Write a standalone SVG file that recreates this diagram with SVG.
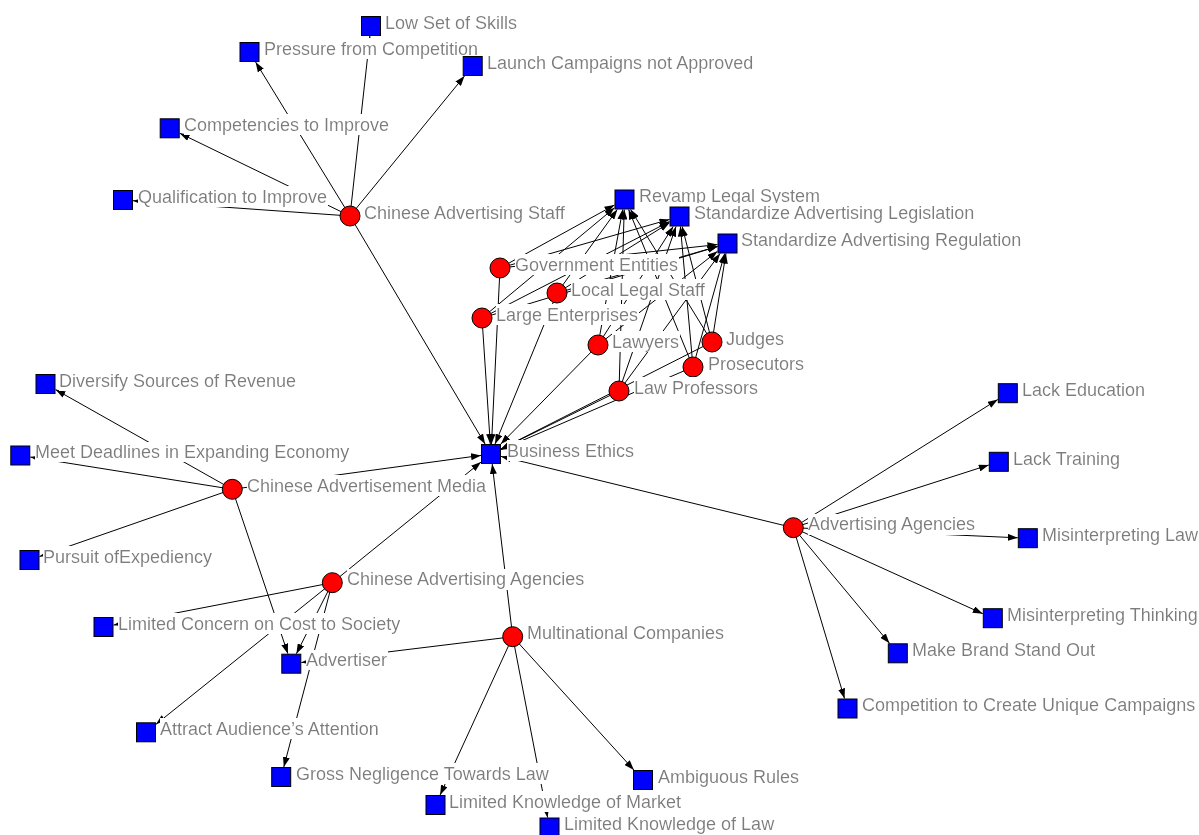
<svg xmlns="http://www.w3.org/2000/svg" width="1199" height="835" viewBox="0 0 1199 835">
<style>
.e{stroke:#000;stroke-width:1;fill:none;marker-end:url(#a)}
.s{fill:#0000ff;stroke:#000;stroke-width:1}
.c{fill:#ff0000;stroke:#000;stroke-width:1}
.t{font-family:"Liberation Sans",Arial,sans-serif;font-size:18px;fill:#7c7c7c;filter:url(#bg)}
</style>
<defs>
<marker id="a" viewBox="0 0 10 7" refX="10" refY="3.5" markerWidth="10" markerHeight="7" orient="auto" markerUnits="userSpaceOnUse"><path d="M0,0 L10,3.5 L0,7 z" fill="#000"/></marker>
<filter id="bg" x="0" y="0" width="1" height="1"><feFlood flood-color="#ffffff"/><feComposite in="SourceGraphic"/></filter>
</defs>
<rect width="1199" height="835" fill="#fff"/>
<g id="edges">
<line class="e" x1="350" y1="216" x2="369.9" y2="36"/>
<line class="e" x1="350" y1="216" x2="255.6" y2="62"/>
<line class="e" x1="350" y1="216" x2="464.5" y2="76"/>
<line class="e" x1="350" y1="216" x2="179.7" y2="133.2"/>
<line class="e" x1="350" y1="216" x2="133" y2="200.7"/>
<line class="e" x1="350" y1="216" x2="485.1" y2="444"/>
<line class="e" x1="232.3" y1="489.3" x2="55.5" y2="389.6"/>
<line class="e" x1="232.3" y1="489.3" x2="30.3" y2="457.1"/>
<line class="e" x1="232.3" y1="489.3" x2="39.5" y2="556.5"/>
<line class="e" x1="232.3" y1="489.3" x2="481" y2="455.4"/>
<line class="e" x1="232.3" y1="489.3" x2="287.9" y2="653.7"/>
<line class="e" x1="332.3" y1="582.7" x2="481" y2="462.1"/>
<line class="e" x1="332.3" y1="582.7" x2="113.5" y2="625.1"/>
<line class="e" x1="332.3" y1="582.7" x2="296.4" y2="653.7"/>
<line class="e" x1="332.3" y1="582.7" x2="156" y2="724.3"/>
<line class="e" x1="332.3" y1="582.7" x2="283.8" y2="767"/>
<line class="e" x1="512.7" y1="636.7" x2="492.2" y2="464"/>
<line class="e" x1="512.7" y1="636.7" x2="301.3" y2="662.5"/>
<line class="e" x1="512.7" y1="636.7" x2="440.1" y2="795"/>
<line class="e" x1="512.7" y1="636.7" x2="547.6" y2="817.5"/>
<line class="e" x1="512.7" y1="636.7" x2="633.9" y2="770"/>
<line class="e" x1="793.3" y1="527.7" x2="501" y2="456.4"/>
<line class="e" x1="793.3" y1="527.7" x2="997.8" y2="399.5"/>
<line class="e" x1="793.3" y1="527.7" x2="988.8" y2="465"/>
<line class="e" x1="793.3" y1="527.7" x2="1017.8" y2="537.8"/>
<line class="e" x1="793.3" y1="527.7" x2="982.8" y2="613.7"/>
<line class="e" x1="793.3" y1="527.7" x2="889.5" y2="643.3"/>
<line class="e" x1="793.3" y1="527.7" x2="844.5" y2="698.5"/>
<line class="e" x1="500" y1="268" x2="491.5" y2="444"/>
<line class="e" x1="557" y1="293" x2="495.1" y2="444"/>
<line class="e" x1="482" y1="318" x2="490.3" y2="444"/>
<line class="e" x1="598" y1="345" x2="500.8" y2="444"/>
<line class="e" x1="712" y1="342" x2="501" y2="448.9"/>
<line class="e" x1="693" y1="367" x2="501" y2="449.7"/>
<line class="e" x1="619" y1="391" x2="501" y2="449.1"/>
<line class="e" x1="500" y1="268" x2="614.5" y2="205"/>
<line class="e" x1="557" y1="293" x2="617.3" y2="209.5"/>
<line class="e" x1="482" y1="318" x2="614.5" y2="207.8"/>
<line class="e" x1="598" y1="345" x2="622.7" y2="209.5"/>
<line class="e" x1="712" y1="342" x2="630.6" y2="209.5"/>
<line class="e" x1="693" y1="367" x2="628.6" y2="209.5"/>
<line class="e" x1="619" y1="391" x2="624.2" y2="209.5"/>
<line class="e" x1="500" y1="268" x2="669.5" y2="219.4"/>
<line class="e" x1="557" y1="293" x2="669.5" y2="222.7"/>
<line class="e" x1="482" y1="318" x2="669.5" y2="221.6"/>
<line class="e" x1="598" y1="345" x2="673.2" y2="226.5"/>
<line class="e" x1="712" y1="342" x2="682.1" y2="226.5"/>
<line class="e" x1="693" y1="367" x2="680.4" y2="226.5"/>
<line class="e" x1="619" y1="391" x2="676" y2="226.5"/>
<line class="e" x1="500" y1="268" x2="717.5" y2="244.6"/>
<line class="e" x1="557" y1="293" x2="717.5" y2="246.4"/>
<line class="e" x1="482" y1="318" x2="717.5" y2="246.5"/>
<line class="e" x1="598" y1="345" x2="717.5" y2="251.3"/>
<line class="e" x1="712" y1="342" x2="725.9" y2="253.5"/>
<line class="e" x1="693" y1="367" x2="724.7" y2="253.5"/>
<line class="e" x1="619" y1="391" x2="720.1" y2="253.5"/>
</g>
<g id="n-lss"><rect class="s" x="361.5" y="16.5" width="19" height="19"/><text class="t" x="385" y="28.5">Low Set of Skills</text></g>
<g id="n-pfc"><rect class="s" x="240" y="42.5" width="19" height="19"/><text class="t" x="264" y="54.5">Pressure from Competition</text></g>
<g id="n-lca"><rect class="s" x="463.2" y="56.5" width="19" height="19"/><text class="t" x="487" y="68.5">Launch Campaigns not Approved</text></g>
<g id="n-cti"><rect class="s" x="160.2" y="118.8" width="19" height="19"/><text class="t" x="184" y="130.5">Competencies to Improve</text></g>
<g id="n-qti"><rect class="s" x="113.5" y="190.5" width="19" height="19"/><text class="t" x="138" y="202.5">Qualification to Improve</text></g>
<g id="n-cas"><circle class="c" cx="350" cy="216" r="10"/><text class="t" x="364" y="218.5">Chinese Advertising Staff</text></g>
<g id="n-rev"><rect class="s" x="615" y="190" width="19" height="19"/><text class="t" x="639" y="202">Revamp Legal System</text></g>
<g id="n-sal"><rect class="s" x="670" y="207" width="19" height="19"/><text class="t" x="694" y="219">Standardize Advertising Legislation</text></g>
<g id="n-sar"><rect class="s" x="718" y="234" width="19" height="19"/><text class="t" x="741" y="246">Standardize Advertising Regulation</text></g>
<g id="n-gov"><circle class="c" cx="500" cy="268" r="10"/><text class="t" x="515" y="270.5">Government Entities</text></g>
<g id="n-lls"><circle class="c" cx="557" cy="293" r="10"/><text class="t" x="571" y="295.5">Local Legal Staff</text></g>
<g id="n-len"><circle class="c" cx="482" cy="318" r="10"/><text class="t" x="496" y="320.5">Large Enterprises</text></g>
<g id="n-law"><circle class="c" cx="598" cy="345" r="10"/><text class="t" x="612" y="347.5">Lawyers</text></g>
<g id="n-jud"><circle class="c" cx="712" cy="342" r="10"/><text class="t" x="726" y="344.5">Judges</text></g>
<g id="n-pro"><circle class="c" cx="693" cy="367" r="10"/><text class="t" x="708" y="369.5">Prosecutors</text></g>
<g id="n-lpr"><circle class="c" cx="619" cy="391" r="10"/><text class="t" x="634" y="393.5">Law Professors</text></g>
<g id="n-dsr"><rect class="s" x="36" y="374.5" width="19" height="19"/><text class="t" x="59" y="386.5">Diversify Sources of Revenue</text></g>
<g id="n-mde"><rect class="s" x="10.8" y="446" width="19" height="19"/><text class="t" x="35" y="458">Meet Deadlines in Expanding Economy</text></g>
<g id="n-be"><rect class="s" x="481.5" y="444.5" width="19" height="19"/><text class="t" x="507" y="456.5">Business Ethics</text></g>
<g id="n-cam"><circle class="c" cx="232.3" cy="489.3" r="10"/><text class="t" x="247" y="491.8">Chinese Advertisement Media</text></g>
<g id="n-pex"><rect class="s" x="20" y="550.5" width="19" height="19"/><text class="t" x="43" y="562.5">Pursuit ofExpediency</text></g>
<g id="n-led"><rect class="s" x="998.3" y="383.7" width="19" height="19"/><text class="t" x="1022" y="395.5">Lack Education</text></g>
<g id="n-ltr"><rect class="s" x="989.3" y="452.3" width="19" height="19"/><text class="t" x="1013" y="464.5">Lack Training</text></g>
<g id="n-ada"><circle class="c" cx="793.3" cy="527.7" r="10"/><text class="t" x="808" y="530.2">Advertising Agencies</text></g>
<g id="n-mil"><rect class="s" x="1018.3" y="528.7" width="19" height="19"/><text class="t" x="1042" y="540.5">Misinterpreting Law</text></g>
<g id="n-mit"><rect class="s" x="983.3" y="608.7" width="19" height="19"/><text class="t" x="1007" y="620.5">Misinterpreting Thinking</text></g>
<g id="n-mbs"><rect class="s" x="888.3" y="643.8" width="19" height="19"/><text class="t" x="912" y="655.5">Make Brand Stand Out</text></g>
<g id="n-ccu"><rect class="s" x="838" y="699" width="19" height="19"/><text class="t" x="862" y="710.5">Competition to Create Unique Campaigns</text></g>
<g id="n-caa"><circle class="c" cx="332.3" cy="582.7" r="10"/><text class="t" x="347" y="585.2">Chinese Advertising Agencies</text></g>
<g id="n-lcc"><rect class="s" x="94" y="617.5" width="19" height="19"/><text class="t" x="118" y="629.5">Limited Concern on Cost to Society</text></g>
<g id="n-adv"><rect class="s" x="281.8" y="654.2" width="19" height="19"/><text class="t" x="306" y="666">Advertiser</text></g>
<g id="n-mnc"><circle class="c" cx="512.7" cy="636.7" r="10"/><text class="t" x="527" y="639.2">Multinational Companies</text></g>
<g id="n-aaa"><rect class="s" x="136.5" y="722.8" width="19" height="19"/><text class="t" x="160" y="734.5">Attract Audience’s Attention</text></g>
<g id="n-gnl"><rect class="s" x="271.7" y="767.5" width="19" height="19"/><text class="t" x="296" y="779.5">Gross Negligence Towards Law</text></g>
<g id="n-amb"><rect class="s" x="633.5" y="770.5" width="19" height="19"/><text class="t" x="658" y="782.5">Ambiguous Rules</text></g>
<g id="n-lkm"><rect class="s" x="426" y="795.5" width="19" height="19"/><text class="t" x="449" y="807.5">Limited Knowledge of Market</text></g>
<g id="n-lkl"><rect class="s" x="540" y="818" width="19" height="19"/><text class="t" x="564" y="829.5">Limited Knowledge of Law</text></g>
</svg>
